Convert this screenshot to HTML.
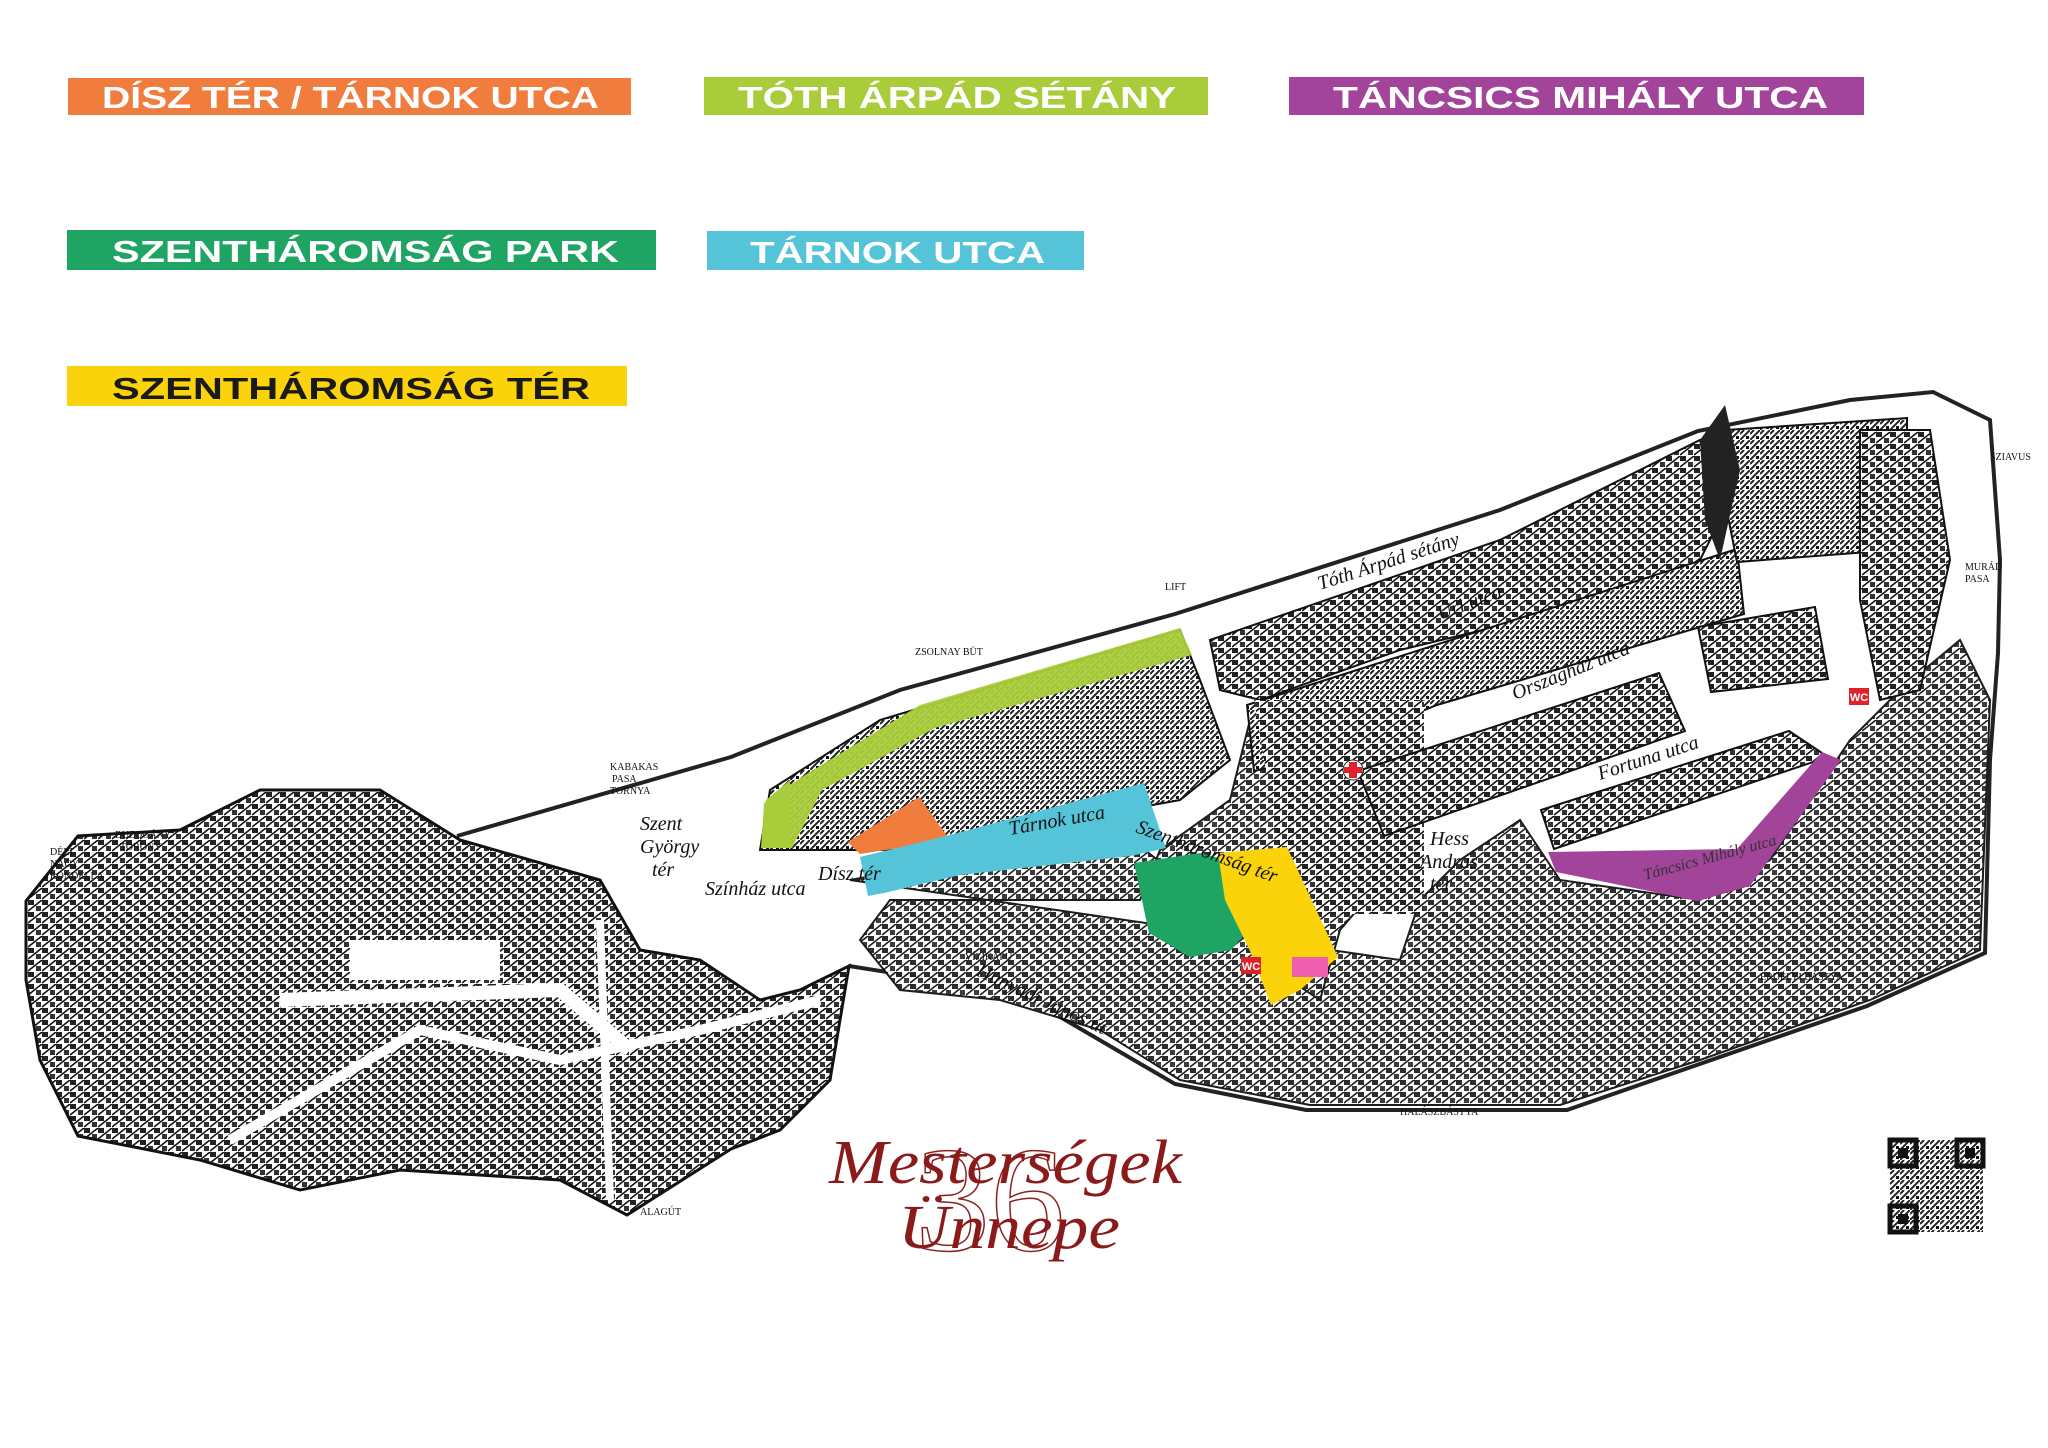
<!DOCTYPE html>
<html><head><meta charset="utf-8"><style>
html,body{margin:0;padding:0;background:#fff;}
svg{display:block;}
</style></head><body>
<svg width="2048" height="1448" viewBox="0 0 2048 1448" xmlns="http://www.w3.org/2000/svg">
<defs>
<pattern id="tex" width="14" height="12" patternUnits="userSpaceOnUse">
<rect width="14" height="12" fill="#fff"/>
<rect x="0" y="0" width="6" height="5" fill="#222"/>
<rect x="8" y="6" width="5" height="5" fill="#333"/>
<path d="M0 11 L14 0" stroke="#111" stroke-width="1.6"/>
</pattern>
<pattern id="tex2" width="10" height="10" patternUnits="userSpaceOnUse">
<rect width="10" height="10" fill="#fff"/>
<path d="M0 10 L10 0 M0 4 L4 0" stroke="#222" stroke-width="2"/>
<rect x="6" y="6" width="3" height="3" fill="#111"/>
</pattern>
</defs>
<rect width="2048" height="1448" fill="#fff"/>

<!-- Legend -->
<g font-family="'Liberation Sans Narrow','Liberation Sans',sans-serif" font-weight="bold" font-size="31">
<rect x="68" y="78" width="563" height="37" fill="#f07c3e"/>
<text x="102" y="108" fill="#fff" textLength="497" lengthAdjust="spacingAndGlyphs">DÍSZ TÉR / TÁRNOK UTCA</text>
<rect x="704" y="77" width="504" height="38" fill="#a9cd3a"/>
<text x="738" y="108" fill="#fff" textLength="438" lengthAdjust="spacingAndGlyphs">TÓTH ÁRPÁD SÉTÁNY</text>
<rect x="1289" y="77" width="575" height="38" fill="#a2449a"/>
<text x="1333" y="108" fill="#fff" textLength="495" lengthAdjust="spacingAndGlyphs">TÁNCSICS MIHÁLY UTCA</text>
<rect x="67" y="230" width="589" height="40" fill="#1fa463"/>
<text x="112" y="262" fill="#fff" textLength="507" lengthAdjust="spacingAndGlyphs">SZENTHÁROMSÁG PARK</text>
<rect x="707" y="231" width="377" height="39" fill="#56c4d8"/>
<text x="750" y="263" fill="#fff" textLength="295" lengthAdjust="spacingAndGlyphs">TÁRNOK UTCA</text>
<rect x="67" y="366" width="560" height="40" fill="#fbd30b"/>
<text x="112" y="399" fill="#1a1a1a" textLength="478" lengthAdjust="spacingAndGlyphs">SZENTHÁROMSÁG TÉR</text>
</g>

<!-- Map outline / wall -->
<path d="M457,836 L731,757 L900,690 L1175,614 L1500,510 L1698,431 L1850,400 L1933,392 L1990,420 L2000,560 L1998,653 L1990,760 L1985,953 L1867,1006 L1567,1110 L1306,1110 L1175,1084 L1019,993 L849,966" fill="none" stroke="#222" stroke-width="4"/>

<!-- Castle district (west) -->
<path d="M26,901 L78,836 L180,830 L260,790 L380,790 L460,840 L600,880 L640,950 L700,960 L760,1000 L800,990 L849,966 L830,1080 L780,1130 L731,1149 L627,1215 L560,1180 L400,1170 L300,1190 L200,1160 L78,1136 L40,1060 L26,980 Z" fill="url(#tex)" stroke="#111" stroke-width="3"/>
<path d="M230,1140 L420,1030 L560,1060 L700,1030 L820,1000" fill="none" stroke="#fff" stroke-width="10"/>
<path d="M280,1000 L560,990 L630,1050" fill="none" stroke="#fff" stroke-width="14"/>
<path d="M350,960 L500,960" fill="none" stroke="#fff" stroke-width="40"/>
<path d="M600,920 L610,1200" fill="none" stroke="#fff" stroke-width="8"/>

<!-- middle blocks -->
<path d="M760,850 L770,790 L880,720 L1180,630 L1200,680 L1230,760 L1180,800 L960,840 L900,850 Z" fill="url(#tex2)" stroke="#111" stroke-width="2"/>
<path d="M850,880 L1120,830 L1170,870 L1240,880 L1260,960 L1320,1000 L1340,930 L1400,860 L1420,780 L1380,720 L1330,700 L1250,720 L1230,800 L1160,850 L1140,900 L890,900 L860,940 L900,990 L1000,1000 L1100,1030 L1180,1080 L1310,1105 L1560,1105 L1700,1060 L1870,1000 L1980,950 L1990,700 L1960,640 L1900,690 L1850,740 L1770,860 L1700,900 L1560,880 L1520,820 L1460,860 L1420,900 L1400,960 Z" fill="url(#tex)" stroke="#111" stroke-width="2" opacity="0.95"/>
<!-- north rows -->
<path d="M1210,640 L1500,540 L1700,440 L1720,520 L1690,580 L1400,650 L1260,700 L1220,690 Z" fill="url(#tex)" stroke="#111" stroke-width="2"/>
<path d="M1247,705 L1737,549 L1744,614 L1437,705 L1300,760 L1254,771 Z" fill="url(#tex2)" stroke="#111" stroke-width="2"/>
<path d="M1254,700 L1424,700 L1424,914 L1290,914 Z" fill="url(#tex)"/>
<path d="M1358,771 L1659,673 L1685,731 L1384,836 Z" fill="url(#tex)" stroke="#111" stroke-width="2"/>
<path d="M1541,810 L1789,731 L1828,757 L1554,849 Z" fill="url(#tex)" stroke="#111" stroke-width="2"/>
<path d="M1711,431 L1907,418 L1907,549 L1737,562 Z" fill="url(#tex2)" stroke="#111" stroke-width="2"/>
<path d="M1698,627 L1815,607 L1828,679 L1711,692 Z" fill="url(#tex)" stroke="#111" stroke-width="2"/>
<path d="M1860,430 L1930,430 L1950,560 L1920,690 L1880,700 L1860,600 Z" fill="url(#tex)" stroke="#111" stroke-width="2"/>
<path d="M1700,440 L1725,405 L1740,470 L1720,560 L1705,520 Z" fill="#222"/>

<!-- colored zones -->
<path d="M761,848 L764,803 L805,775 L920,705 L1180,628 L1192,655 L935,728 L822,790 L792,848 Z" fill="#a9cd3a" opacity="0.95"/>
<path d="M761,848 L766,800 L790,780 L790,848 Z" fill="#a9cd3a"/>
<path d="M848,842 L919,797 L950,840 L860,854 Z" fill="#f07c3e"/>
<path d="M860,857 L950,835 L1144,783 L1166,848 L1131,856 L960,875 L884,893 L868,896 Z" fill="#56c4d8"/>
<path d="M1134,863 L1200,853 L1226,860 L1246,933 L1231,950 L1190,957 L1149,933 Z" fill="#1fa463"/>
<path d="M1218,853 L1287,847 L1338,957 L1300,990 L1271,1005 L1251,953 L1225,900 Z" fill="#fbd30b"/>
<rect x="1241" y="957" width="20" height="17" fill="#e0202a"/>
<text x="1251" y="970" font-family="'Liberation Sans',sans-serif" font-size="11" font-weight="bold" fill="#fff" text-anchor="middle">WC</text>
<rect x="1292" y="957" width="36" height="20" fill="#ee5fb0"/>
<path d="M1548,852 L1556,872 L1698,901 L1750,886 L1841,760 L1822,752 L1737,849 Z" fill="#a2449a"/>
<rect x="1849" y="688" width="20" height="17" fill="#e0202a"/>
<text x="1859" y="701" font-family="'Liberation Sans',sans-serif" font-size="11" font-weight="bold" fill="#fff" text-anchor="middle">WC</text>
<circle cx="1353" cy="770" r="10" fill="#fff" stroke="#222"/>
<path d="M1349,762h8v5h5v6h-5v5h-8v-5h-5v-6h5z" fill="#e0202a"/>

<!-- street labels -->
<g font-family="'Liberation Serif',serif" font-style="italic" font-size="20" fill="#111">
<text x="1010" y="835" transform="rotate(-10 1010 835)">Tárnok utca</text>
<text x="1135" y="832" transform="rotate(20 1135 832)">Szentháromság tér</text>
<text x="818" y="880">Dísz tér</text>
<text x="640" y="830">Szent</text><text x="640" y="853">György</text><text x="652" y="876">tér</text>
<text x="705" y="895">Színház utca</text>
<text x="1320" y="590" transform="rotate(-18 1320 590)">Tóth Árpád sétány</text>
<text x="1440" y="620" transform="rotate(-20 1440 620)">Úri utca</text>
<text x="1515" y="700" transform="rotate(-22 1515 700)">Országház utca</text>
<text x="1600" y="780" transform="rotate(-18 1600 780)">Fortuna utca</text>
<text x="1430" y="845">Hess</text><text x="1420" y="868">András</text><text x="1430" y="890">tér</text>
<text x="1645" y="880" fill="#333" font-size="16" transform="rotate(-15 1645 880)">Táncsics Mihály utca</text>
<text x="975" y="975" transform="rotate(25 975 975)">Hunyadi János út</text>
</g>
<g font-family="'Liberation Serif',serif" font-size="10" fill="#111">
<text x="1400" y="1115">HALÁSZBÁSTYA</text>
<text x="640" y="1215">ALAGÚT</text>
<text x="1760" y="980">ERDÉLYI BÁSTYA</text>
<text x="1165" y="590">LIFT</text>
<text x="915" y="655">ZSOLNAY BÜT</text>
<text x="610" y="770">KABAKAS</text><text x="612" y="782">PASA</text><text x="610" y="794">TORNYA</text>
<text x="50" y="855">DÉLI</text><text x="50" y="867">NAGY</text><text x="50" y="879">RONDELLA</text>
<text x="115" y="838">BUZOGÁNY</text><text x="120" y="850">TORONY</text>
<text x="965" y="960">VÍZIKAPU</text>
<text x="1965" y="570">MURÁD</text><text x="1965" y="582">PASA</text>
<text x="1990" y="460">SZIAVUS</text>
</g>

<!-- Logo -->
<text x="990" y="1250" font-family="'Liberation Serif',serif" font-size="150" fill="none" stroke="#8b2020" stroke-width="1.5" text-anchor="middle">36</text>
<text x="829" y="1183" font-family="'Liberation Serif',serif" font-style="italic" font-size="62" fill="#8b1a1a" textLength="353" lengthAdjust="spacingAndGlyphs">Mesterségek</text>
<text x="898" y="1248" font-family="'Liberation Serif',serif" font-style="italic" font-size="62" fill="#8b1a1a" textLength="222" lengthAdjust="spacingAndGlyphs">Ünnepe</text>

<!-- QR -->
<g fill="#111">
<rect x="1890" y="1140" width="93" height="92" fill="url(#tex2)"/>
<rect x="1890" y="1140" width="26" height="26" fill="none" stroke="#111" stroke-width="5"/>
<rect x="1898" y="1148" width="10" height="10"/>
<rect x="1957" y="1140" width="26" height="26" fill="none" stroke="#111" stroke-width="5"/>
<rect x="1965" y="1148" width="10" height="10"/>
<rect x="1890" y="1206" width="26" height="26" fill="none" stroke="#111" stroke-width="5"/>
<rect x="1898" y="1214" width="10" height="10"/>
</g>
</svg>
</body></html>
